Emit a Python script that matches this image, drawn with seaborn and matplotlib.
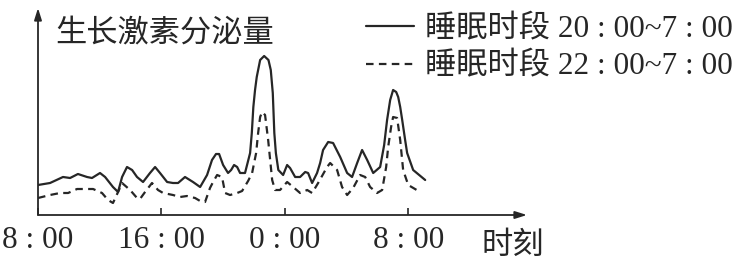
import matplotlib
matplotlib.use("Agg")
import matplotlib.pyplot as plt
import seaborn as sns
import pandas as pd

# ---- data (hours after 08:00, secretion amount in arbitrary units) ----
solid_hours = [0.00, 0.78, 1.62, 2.08, 2.59, 3.18, 3.50, 4.02, 4.35, 4.86, 5.19, 5.45,
               5.77, 6.10, 6.42, 6.81, 7.26, 7.59, 7.91, 8.37, 8.75, 9.08, 9.53, 10.05,
               10.51, 10.96, 11.28, 11.54, 11.74, 12.00, 12.32, 12.52, 12.71, 12.91, 13.10,
               13.42, 13.75, 13.86, 13.96, 14.07, 14.18, 14.40, 14.66, 14.94, 15.09, 15.22,
               15.32, 15.42, 15.58, 15.89, 16.15, 16.34, 16.67, 16.99, 17.32, 17.51, 17.77,
               18.09, 18.29, 18.48, 18.81, 19.13, 19.59, 20.04, 20.36, 20.69, 21.01, 21.34,
               21.73, 22.18, 22.44, 22.63, 22.83, 23.02, 23.22, 23.35, 23.48, 23.61, 23.80,
               23.93, 24.32, 25.10]
solid_values = [30, 32, 38, 37, 41, 38, 37, 42, 38, 28, 23, 38,
                48, 45, 38, 33, 42, 48, 42, 33, 32, 32, 38, 33,
                28, 40, 55, 61, 61, 50, 42, 45, 50, 48, 42,
                42, 62, 82, 108, 125, 138, 155, 159, 155, 145, 122,
                82, 62, 45, 40, 50, 47, 38, 38, 43, 42, 32,
                42, 52, 65, 73, 72, 58, 42, 38, 52, 65, 55,
                42, 48, 70, 95, 115, 125, 123, 118, 108, 95, 75,
                62, 45, 35]

dashed_hours = [0.00, 0.78, 1.43, 1.95, 2.53, 3.05, 3.57, 4.15, 4.54, 4.86, 5.19, 5.45,
                5.97, 6.42, 6.61, 6.94, 7.39, 7.78, 8.11, 8.75, 9.21, 9.66, 10.18, 10.51,
                10.83, 11.15, 11.35, 11.61, 11.93, 12.13, 12.45, 12.91, 13.23, 13.62, 13.88,
                14.14, 14.27, 14.40, 14.53, 14.72, 14.92, 15.05, 15.18, 15.37, 15.69, 16.15,
                16.54, 16.99, 17.45, 17.77, 18.16, 18.74, 18.94, 19.39, 19.71, 20.04, 20.43,
                20.88, 21.21, 21.53, 21.98, 22.31, 22.57, 22.70, 22.89, 23.02, 23.28, 23.48,
                23.67, 24.00, 24.77]
dashed_values = [17, 20, 22, 22, 26, 26, 26, 22, 15, 12, 23, 32,
                 25, 17, 16, 23, 32, 25, 22, 20, 18, 19, 17, 14,
                 13, 27, 33, 40, 38, 22, 20, 22, 24, 34, 42,
                 62, 82, 98, 103, 100, 75, 55, 35, 25, 25, 33,
                 28, 22, 25, 22, 32, 48, 52, 45, 28, 20, 27,
                 40, 38, 28, 22, 25, 48, 68, 88, 98, 97, 75,
                 45, 30, 23]

tick_hours = [0, 8, 16, 24]
tick_labels = ["8 : 00", "16 : 00", "0 : 00", "8 : 00"]
series_labels = ["睡眠时段 20 : 00~7 : 00", "睡眠时段 22 : 00~7 : 00"]
y_title = "生长激素分泌量"
x_title = "时刻"

# ---- style ----
sns.set_style("white")
plt.rcParams["font.family"] = ["Liberation Serif", "Noto Sans CJK SC", "DejaVu Sans"]
ink = "#262626"
FS = 22.5

W, H = 752, 260
fig = plt.figure(figsize=(W / 100, H / 100), dpi=100)
ax_left, ax_bottom, ax_right, ax_top = 38, 215, 527, 8
ax = fig.add_axes([ax_left / W, 1 - ax_bottom / H, (ax_right - ax_left) / W,
                   (ax_bottom - ax_top) / H])

df_solid = pd.DataFrame({"h": solid_hours, "v": solid_values})
df_dash = pd.DataFrame({"h": dashed_hours, "v": dashed_values})

sns.lineplot(data=df_solid, x="h", y="v", ax=ax, color=ink, lw=1.6,
             solid_joinstyle="round", label=series_labels[0])
sns.lineplot(data=df_dash, x="h", y="v", ax=ax, color=ink, lw=1.6,
             linestyle=(0, (3.4, 2.4)), label=series_labels[1])

ax.set_xlim(0, 31.7)
ax.set_ylim(0, 207)
for s in ax.spines.values():
    s.set_visible(False)

# axes with arrowheads
arrow = dict(arrowstyle="-|>,head_length=0.7,head_width=0.22", color=ink, lw=1.3,
             shrinkA=0, shrinkB=0)
ax.annotate("", xy=(1, 0), xytext=(0, 0), xycoords="axes fraction", arrowprops=arrow)
ax.annotate("", xy=(0, 1), xytext=(0, 0), xycoords="axes fraction", arrowprops=arrow)

ax.set_xticks(tick_hours)
ax.set_xticklabels(tick_labels, fontsize=FS, color=ink)
ax.tick_params(axis="x", direction="in", length=5, width=1.2, color=ink, pad=8,
               bottom=True)
ax.set_yticks([])
ax.set_xlabel("")
ax.set_ylabel("")

fig.text(482 / W, 1 - 246 / H, x_title, fontsize=FS, color=ink, va="center", ha="left")
fig.text(55 / W, 1 - 34 / H, y_title, fontsize=FS, color=ink, va="center", ha="left")

leg = ax.legend(loc="upper left", bbox_to_anchor=(366 / W, 1 - 15 / H),
                bbox_transform=fig.transFigure, frameon=False, fontsize=FS,
                handlelength=1.55, handletextpad=0.35, labelspacing=0.27,
                borderpad=0, borderaxespad=0, labelcolor=ink)

fig.savefig("out.png", dpi=100, facecolor="white")
